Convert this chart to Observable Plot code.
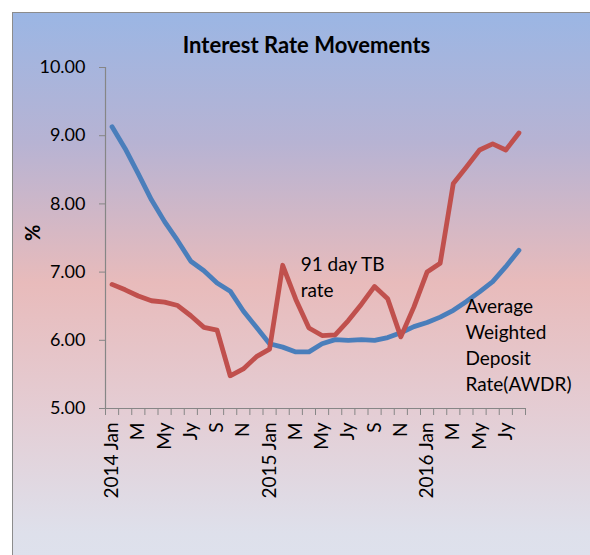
<!DOCTYPE html>
<html>
<head>
<meta charset="utf-8">
<script src="https://cdn.jsdelivr.net/npm/d3@7"></script>
<script src="https://cdn.jsdelivr.net/npm/@observablehq/plot@0.6"></script>
<style>
  body { margin: 0; background: #fff; font-family: Lato, "Open Sans", sans-serif; }
  #wrap { position: relative; width: 590px; height: 555px; overflow: hidden; background: #fff; }
  #bg { position: absolute; left: 12px; top: 12px; width: 620px; height: 600px; border: 1px solid #8c8c8c;
        background: linear-gradient(to bottom, #9bb6e4 0px, #b7b3d3 130px, #e8bbbb 270px, #e4cdd4 400px, #dee0eb 520px, #dde3ef 600px); }
  #title { position: absolute; left: 0; top: 31px; width: 613px; text-align: center; font: bold 22px Lato, sans-serif; color: #000; }
  #chart { position: absolute; left: 0; top: 0; }
</style>
</head>
<body>
<div id="wrap">
  <div id="bg"></div>
  <div id="title">Interest Rate Movements</div>
  <div id="chart"></div>
</div>
<script>
// Months from 2014 Jan to 2016 Aug
const months = [
  "2014 Jan","2014 Feb","2014 Mar","2014 Apr","2014 May","2014 Jun","2014 Jul","2014 Aug","2014 Sep","2014 Oct","2014 Nov","2014 Dec",
  "2015 Jan","2015 Feb","2015 Mar","2015 Apr","2015 May","2015 Jun","2015 Jul","2015 Aug","2015 Sep","2015 Oct","2015 Nov","2015 Dec",
  "2016 Jan","2016 Feb","2016 Mar","2016 Apr","2016 May","2016 Jun","2016 Jul","2016 Aug"
];
// Average Weighted Deposit Rate (AWDR)
const awdr = [9.13, 8.81, 8.44, 8.06, 7.74, 7.46, 7.16, 7.02, 6.84, 6.72, 6.43, 6.19,
              5.95, 5.90, 5.83, 5.83, 5.95, 6.01, 6.00, 6.01, 6.00, 6.04, 6.11, 6.20,
              6.26, 6.34, 6.44, 6.57, 6.71, 6.86, 7.08, 7.32];
// 91 day TB rate
const tb = [6.82, 6.74, 6.65, 6.58, 6.56, 6.51, 6.36, 6.19, 6.15, 5.48, 5.58, 5.76,
            5.87, 7.10, 6.60, 6.18, 6.07, 6.08, 6.29, 6.53, 6.79, 6.61, 6.05, 6.49,
            7.00, 7.13, 8.30, 8.54, 8.79, 8.88, 8.79, 9.04];
const tickLabels = ["2014 Jan","M","My","Jy","S","N","2015 Jan","M","My","Jy","S","N","2016 Jan","M","My","Jy"];
const yTicks = [5, 6, 7, 8, 9, 10];
const tbLabel = "91 day TB\nrate";
const awdrLabel = "Average\nWeighted\nDeposit\nRate(AWDR)";

const rows = months.map((m, i) => ({i, month: m, awdr: awdr[i], tb: tb[i]}));
const labelTicks = tickLabels.map((_, k) => k * 2);
const boundaryTicks = d3.range(months.length + 1).map(i => i - 0.5);
const axisGray = "#868686";

const chart = Plot.plot({
  width: 590,
  height: 555,
  marginLeft: 105,
  marginRight: 65,
  marginTop: 67,
  marginBottom: 147,
  style: {background: "transparent", fontFamily: "Lato, 'Open Sans', sans-serif", color: "#000", overflow: "visible"},
  x: {type: "linear", domain: [-0.5, months.length - 0.5]},
  y: {domain: [5, 10]},
  marks: [
    Plot.ruleY([5], {stroke: axisGray, strokeWidth: 1.2}),
    Plot.ruleX([-0.5], {stroke: axisGray, strokeWidth: 1.2}),
    Plot.axisY({ticks: yTicks, tickFormat: d => d.toFixed(2), tickSize: 6, tickPadding: 14,
                stroke: axisGray, fill: "#000", fontSize: 18, label: null}),
    Plot.axisX({ticks: boundaryTicks, tickFormat: () => "", tickSize: 7, stroke: axisGray, label: null}),
    Plot.axisX({ticks: labelTicks, tickFormat: d => tickLabels[d / 2], tickSize: 0, tickPadding: 14,
                tickRotate: -90, fill: "#000", fontSize: 19, label: null}),
    Plot.text(["%"], {frameAnchor: "left", text: d => d, rotate: -90, dx: -72, dy: 3,
                      fontSize: 20, fontWeight: "bold", fill: "#000"}),
    Plot.line(rows, {x: "i", y: "awdr", stroke: "#4a7ebb", strokeWidth: 4.8, strokeLinejoin: "round", strokeLinecap: "round"}),
    Plot.line(rows, {x: "i", y: "tb", stroke: "#c0504d", strokeWidth: 4.8, strokeLinejoin: "round", strokeLinecap: "round"}),
    Plot.text([rows[13]], {x: "i", y: "tb", text: () => tbLabel, textAnchor: "start", lineAnchor: "top",
                           dx: 18, dy: -13, fontSize: 19, lineHeight: 1.37, fill: "#000"}),
    Plot.text([rows[27]], {x: "i", y: "awdr", text: () => awdrLabel, textAnchor: "start", lineAnchor: "top",
                           dx: -1, dy: -7, fontSize: 19, lineHeight: 1.37, fill: "#000"})
  ]
});
document.getElementById("chart").appendChild(chart);
</script>
</body>
</html>
